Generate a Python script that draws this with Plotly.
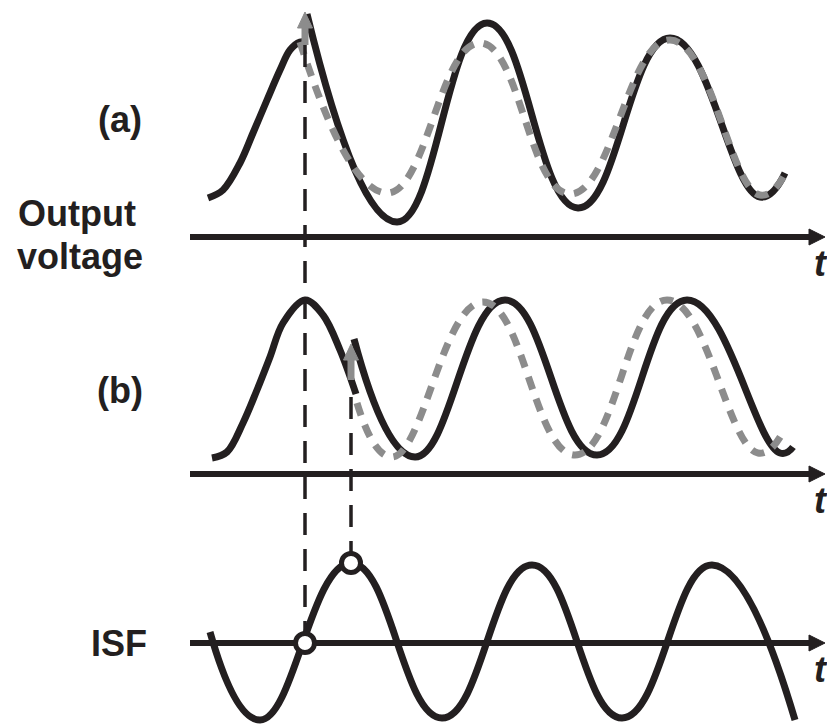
import plotly.graph_objects as go

# ---------------- data (image-pixel units) ----------------
# panel (a): output voltage, kick at the peak
a_pre_x = [208, 223, 240, 253, 267, 280, 290, 300, 305]
a_pre_y = [198, 190, 163, 133, 100, 70, 50, 42, 42]
a_post_x = [307, 397, 487, 578, 670, 760, 785]          # peaks / troughs after kick
a_post_y = [14, 222, 23, 208, 38, 197, 173]
a_ref_x = [300, 387, 480, 570, 670, 760, 785]           # unperturbed (gray)
a_ref_y = [42, 193, 43, 194, 40, 195, 174]

# panel (b): output voltage, kick on the falling edge
b_pre_x = [212, 227, 243, 257, 270, 283, 305, 323, 340, 356]
b_pre_y = [458, 452, 423, 390, 357, 323, 300, 315, 350, 394]
b_post_x = [354, 415, 505, 597, 687, 780, 793]
b_post_y = [339, 457, 300, 455, 300, 453, 447]
b_ref_x = [357, 392, 483, 575, 667, 758, 783]
b_ref_y = [403, 457, 302, 455, 300, 453, 432]

# ISF
isf_x = [210, 260, 351, 442, 532, 622, 712, 795]
isf_y = [632, 720, 563, 718, 565, 718, 565, 720]

# injection instants
inj_x = [305, 351]
inj_isf_y = [643, 563]
guide_top = [45, 397]
kick_base = [45, 380]
kick_tip = [12, 344]

# time axes
axis_y = [237, 474, 643]
axis_x0, axis_x1 = 190, 825

labels = ["(a)", "Output", "voltage", "(b)", "ISF"]

BLACK = "#231f20"
GRAY = "#8c8c8c"

fig = go.Figure()

def line(x, y, color=BLACK, width=7, dash="solid", shape="spline", smoothing=1.3):
    fig.add_trace(go.Scatter(x=x, y=y, mode="lines",
                             line=dict(color=color, width=width, dash=dash, shape=shape,
                                       smoothing=smoothing if shape == "spline" else None),
                             hoverinfo="skip", showlegend=False))

def tri(xs, ys, color):
    fig.add_trace(go.Scatter(x=xs, y=ys, mode="lines", fill="toself", fillcolor=color,
                             line=dict(color=color, width=1), hoverinfo="skip", showlegend=False))

# axes with arrow heads
for ay in axis_y:
    line([axis_x0, axis_x1 - 14], [ay, ay], width=6, shape="linear")
    tri([axis_x1 - 16, axis_x1, axis_x1 - 16, axis_x1 - 16], [ay - 8, ay, ay + 8, ay - 8], BLACK)

# black curves
line(a_pre_x, a_pre_y, smoothing=1.0)
line(a_post_x, a_post_y)
line(b_pre_x, b_pre_y, smoothing=1.0)
line(b_post_x, b_post_y)
line(isf_x, isf_y)

# unperturbed references (gray dashed)
line(a_ref_x, a_ref_y, color=GRAY, width=7, dash="13px,10px")
line(b_ref_x, b_ref_y, color=GRAY, width=7, dash="13px,10px")

# vertical dashed guides
for gx, gt, gy in zip(inj_x, guide_top, inj_isf_y):
    line([gx, gx], [gt, gy - 10], width=3.5, dash="22px,14px", shape="linear")

# gray kick arrows
for kx, kb, kt in zip(inj_x, kick_base, kick_tip):
    line([kx, kx], [kb, kt + 14], color=GRAY, width=7, shape="linear")
    tri([kx - 7.5, kx, kx + 7.5, kx - 7.5], [kt + 16, kt, kt + 16, kt + 16], GRAY)

# injection points on ISF
fig.add_trace(go.Scatter(x=inj_x, y=inj_isf_y, mode="markers",
                         marker=dict(size=19, color="white", line=dict(color=BLACK, width=5)),
                         hoverinfo="skip", showlegend=False))

font = dict(family="Liberation Sans, Arial, sans-serif", size=36, color=BLACK)
label_pos = [(120, 119), (77, 213), (80, 256), (120, 390), (119, 643)]
for txt, (lx, ly) in zip(labels, label_pos):
    fig.add_annotation(x=lx, y=ly, text=f"<b>{txt}</b>", showarrow=False,
                       xanchor="center", yanchor="middle", font=font)
for ay in axis_y:
    fig.add_annotation(x=812, y=ay + 26, text="<b><i>t</i></b>", showarrow=False,
                       xanchor="left", yanchor="middle", font=font)

fig.update_layout(
    width=827, height=727,
    margin=dict(l=0, r=0, t=0, b=0),
    paper_bgcolor="white", plot_bgcolor="white",
    xaxis=dict(range=[0, 827], visible=False, fixedrange=True),
    yaxis=dict(range=[727, 0], visible=False, fixedrange=True),
    showlegend=False,
)

fig.write_html("out.html", config={"displayModeBar": False},
               post_script="document.body.style.margin='0';document.body.style.overflow='hidden';")
